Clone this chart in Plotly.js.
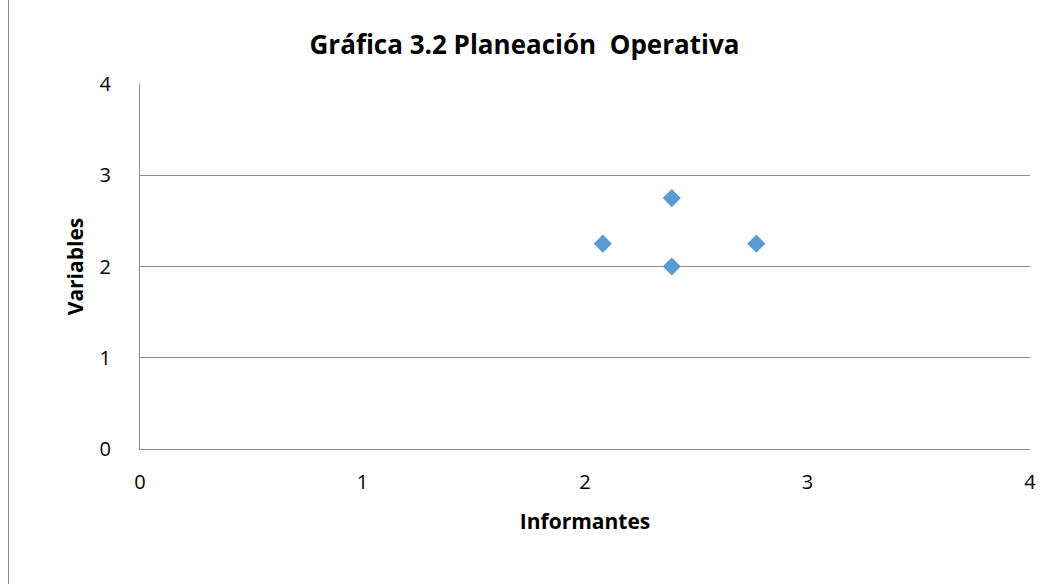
<!DOCTYPE html>
<html>
<head>
<meta charset="utf-8">
<script src="https://cdn.plot.ly/plotly-3.0.1.min.js"></script>
<style>
html,body{margin:0;padding:0;background:#fff;}
#chart{width:1049px;height:584px;}
#border{position:absolute;left:8px;top:0;width:0;height:584px;border-left:1px solid #8c8c8c;pointer-events:none;}
</style>
</head>
<body>
<div id="chart"></div>
<div id="border"></div>
<script>
const informantes = [2.08, 2.39, 2.77, 2.39];
const variables = [2.25, 2.75, 2.25, 2.0];
const xTicks = [0, 1, 2, 3, 4];
const yTicks = [0, 1, 2, 3, 4];

const font = '"Open Sans", Lato, sans-serif';

Plotly.newPlot('chart', [{
  type: 'scatter',
  mode: 'markers',
  x: informantes,
  y: variables,
  marker: {symbol: 'diamond', size: 14, color: '#5B9BD5'},
  hoverinfo: 'x+y'
}], {
  width: 1049, height: 584,
  margin: {l: 140, r: 19, t: 84, b: 135},
  paper_bgcolor: '#fff', plot_bgcolor: '#fff',
  showlegend: false,
  title: {text: '<b>Gráfica 3.2 Planeación\u00a0 Operativa</b>', x: 0.5, xref: 'container', xanchor: 'center', y: 1, yref: 'container', yanchor: 'top', pad: {t: 36, l: 6}, font: {family: font, size: 26, color: '#000'}},
  xaxis: {
    range: [0, 4], tickvals: xTicks, ticktext: xTicks.map(String),
    showgrid: false, zeroline: false, showline: true, linecolor: '#8c8c8c', linewidth: 1,
    ticks: '', ticklabelstandoff: 15,
    tickfont: {family: font, size: 20, color: '#000'},
    title: {text: '<b>Informantes</b>', font: {family: font, size: 21, color: '#000'}, standoff: 20}
  },
  yaxis: {
    range: [0, 4], tickvals: yTicks, ticktext: yTicks.map(String),
    showgrid: true, gridcolor: '#8c8c8c', gridwidth: 1, zeroline: false,
    showline: true, linecolor: '#8c8c8c', linewidth: 1,
    ticks: '', ticklabelstandoff: 24,
    tickfont: {family: font, size: 20, color: '#000'},
    title: {text: '<b>Variables</b>', font: {family: font, size: 21, color: '#000'}, standoff: 10}
  }
}, {displayModeBar: false});
</script>
</body>
</html>
